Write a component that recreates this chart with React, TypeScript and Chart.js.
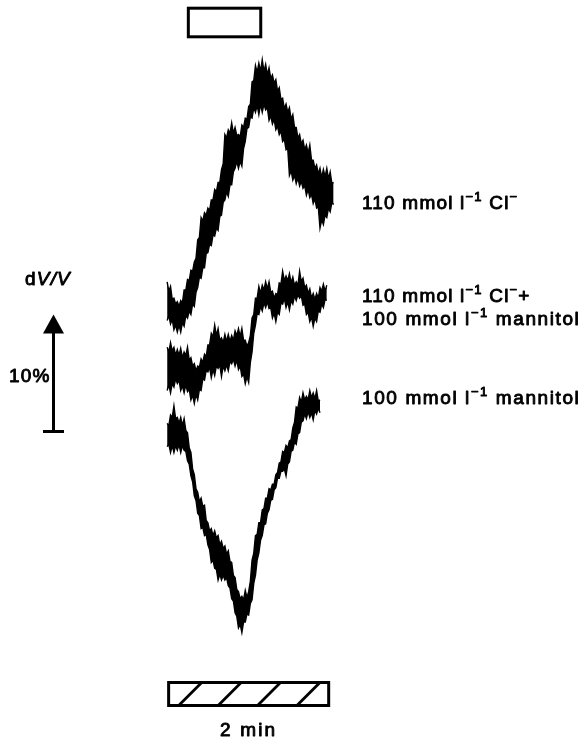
import { useEffect, useRef } from 'react';
import { Chart, registerables } from 'chart.js';

Chart.register(...registerables);

// Sampling times (s) of the volume recordings
const timeSec = [
  0, 1.25, 2.5, 3.75, 5, 6.25, 7.5, 8.75, 10, 11.25, 12.5, 13.75, 15, 16.25, 17.5, 18.75, 20, 21.25,
  22.5, 23.75, 25, 26.25, 27.5, 28.75, 30, 31.25, 32.5, 33.75, 35, 36.25, 37.5, 38.75, 40, 41.25,
  42.5, 43.75, 45, 46.25, 47.5, 48.75, 50, 51.25, 52.5, 53.75, 55, 56.25, 57.5, 58.75, 60, 61.25,
  62.5, 63.75, 65, 66.25, 67.5, 68.75, 70, 71.25, 72.5, 73.75, 75, 76.25, 77.5, 78.75, 80, 81.25,
  82.5, 83.75, 85, 86.25, 87.5, 88.75, 90, 91.25, 92.5, 93.75, 95, 96.25, 97.5, 98.75, 100, 101.25,
  102.5, 103.75, 105, 106.25, 107.5, 108.75, 110, 111.25, 112.5, 113.75, 115, 116.25, 117.5,
  118.75, 120, 121.25, 122.5,
];

// 110 mmol l-1 Cl- : upper / lower edge of the noisy trace (dV/V, %, offset for display)
const chlorideUpper = [
  12.8, 12.0, 12.4, 11.3, 11.4, 10.9, 11.1, 10.7, 11.2, 11.0,
  12.1, 12.1, 13.0, 12.9, 13.8, 13.7, 14.5, 14.8, 16.4, 16.6,
  18.3, 18.0, 18.7, 18.5, 19.1, 18.9, 19.8, 19.8, 20.7, 20.5,
  21.3, 21.3, 22.4, 22.9, 25.4, 25.1, 25.8, 25.5, 26.4, 25.5,
  26.0, 25.3, 25.4, 25.2, 26.2, 26.0, 26.8, 26.7, 27.8, 28.0,
  29.9, 30.0, 31.3, 30.7, 31.5, 30.8, 31.8, 30.8, 31.4, 30.5,
  31.1, 30.2, 30.5, 29.8, 30.1, 29.1, 29.4, 28.4, 28.5, 27.6,
  28.0, 27.3, 27.7, 26.7, 27.1, 26.0, 26.0, 25.1, 25.4, 24.6,
  24.9, 24.1, 24.5, 23.8, 24.5, 23.2, 23.2, 22.5, 22.8, 22.0,
  22.5, 21.7, 22.4, 21.8, 22.5, 21.6, 22.2, 21.2, 21.3,
];
const chlorideLower = [
  9.5, 9.9, 9.2, 9.6, 8.7, 9.1, 8.5, 9.1, 8.5, 9.3,
  9.0, 9.9, 9.7, 10.3, 10.0, 10.9, 10.7, 11.9, 12.3, 13.2,
  13.1, 14.0, 14.0, 15.2, 15.3, 16.0, 15.9, 16.8, 16.7, 17.4,
  17.2, 18.4, 18.5, 19.6, 19.8, 20.5, 20.1, 21.1, 21.1, 22.2,
  22.5, 23.1, 22.5, 23.1, 22.7, 24.2, 24.8, 25.9, 26.0, 26.9,
  26.8, 27.7, 27.3, 27.9, 27.1, 28.0, 27.3, 28.0, 27.5, 27.7,
  26.6, 27.0, 26.3, 26.7, 25.8, 26.1, 25.4, 25.7, 24.8, 25.0,
  24.1, 24.2, 21.9, 22.3, 21.5, 21.9, 21.2, 21.7, 21.0, 21.4,
  20.8, 21.0, 20.2, 20.7, 20.0, 20.3, 19.5, 19.9, 19.1, 19.2,
  17.4, 18.1, 17.7, 18.5, 18.3, 19.1, 18.8, 19.6, 19.4,
];

// 110 mmol l-1 Cl- + 100 mmol l-1 mannitol
const mixUpper = [
  7.2, 6.8, 7.6, 6.9, 7.2, 6.5, 7.0, 6.5, 7.1, 6.3,
  6.8, 6.5, 7.2, 6.1, 6.3, 5.6, 5.8, 5.2, 5.6, 5.5,
  6.2, 5.9, 6.6, 6.4, 7.4, 7.4, 8.4, 8.1, 9.1, 8.2,
  8.8, 7.8, 8.0, 7.6, 8.3, 7.7, 8.3, 7.7, 8.2, 7.8,
  8.6, 8.2, 8.8, 8.1, 8.8, 7.8, 7.8, 7.3, 7.6, 8.2,
  9.7, 10.0, 11.4, 11.4, 12.4, 11.8, 12.5, 12.1, 12.8, 12.2,
  12.8, 11.9, 12.0, 11.4, 11.8, 11.7, 12.7, 12.6, 13.7, 12.9,
  13.3, 12.9, 13.5, 12.7, 13.2, 12.5, 12.8, 12.5, 13.7, 12.8,
  13.1, 12.3, 12.5, 11.8, 12.2, 11.4, 11.8, 11.3, 11.8, 11.4,
  12.3, 12.0, 12.6, 12.0, 12.5,
];
const mixLower = [
  3.5, 4.0, 3.3, 4.1, 3.8, 4.5, 4.1, 4.4, 3.5, 3.9,
  3.3, 4.0, 3.4, 3.6, 2.7, 3.1, 2.4, 3.2, 2.7, 3.6,
  3.5, 4.5, 4.4, 5.2, 5.1, 5.5, 4.6, 5.3, 4.8, 5.6,
  5.4, 5.7, 4.7, 5.6, 5.2, 5.7, 5.2, 6.0, 5.8, 6.2,
  5.6, 6.1, 5.3, 5.6, 4.7, 4.9, 4.1, 4.7, 4.2, 5.9,
  6.8, 8.4, 9.1, 10.1, 10.0, 10.7, 10.3, 11.0, 10.6, 11.1,
  10.5, 10.6, 9.7, 10.1, 9.4, 10.2, 10.0, 11.0, 10.9, 11.4,
  10.6, 11.1, 10.4, 11.2, 10.9, 11.6, 11.2, 11.7, 11.4, 11.6,
  10.8, 10.9, 10.0, 10.2, 9.4, 9.8, 9.0, 9.7, 9.4, 10.3,
  10.2, 10.9, 10.6, 11.3, 11.2,
];

// 100 mmol l-1 mannitol
const mannitolUpper = [
  0.7, 0.5, 1.4, 1.2, 2.2, 1.1, 1.2, 0.7, 1.2, 0.5,
  1.1, 0.1, -0.1, -1.4, -1.8, -3.2, -3.7, -4.9, -5.2, -6.0,
  -5.7, -6.4, -6.3, -7.6, -7.8, -8.5, -8.3, -8.9, -8.5, -9.1,
  -8.9, -9.7, -9.4, -10.0, -9.8, -10.5, -10.2, -11.1, -11.2, -12.3,
  -12.5, -13.5, -13.7, -14.3, -14.1, -14.4, -13.6, -14.2, -13.7, -12.8,
  -11.0, -10.4, -8.9, -8.8, -7.8, -7.8, -6.7, -6.6, -5.7, -5.7,
  -4.9, -5.0, -4.5, -4.5, -3.7, -3.5, -2.7, -2.6, -1.7, -1.8,
  -1.2, -1.4, -0.8, -0.7, 0.3, 0.8, 2.1, 2.0, 2.9, 2.5,
  3.3, 2.7, 3.0, 2.7, 3.5, 2.9, 3.3, 2.8, 3.5, 2.6,
  2.7,
];
const mannitolLower = [
  -1.3, -1.1, -1.8, -1.2, -1.8, -1.2, -1.6, -1.1, -1.8, -1.2,
  -1.6, -1.7, -2.5, -2.8, -3.8, -4.3, -5.5, -5.9, -7.0, -7.2,
  -8.3, -8.2, -8.9, -8.8, -9.7, -10.1, -11.2, -11.0, -11.7, -11.8,
  -12.7, -12.2, -12.7, -12.3, -12.7, -12.5, -13.2, -13.4, -14.3, -14.5,
  -15.5, -15.8, -16.8, -16.5, -17.2, -16.3, -16.3, -15.6, -15.7, -14.7,
  -14.4, -13.0, -12.3, -11.0, -10.4, -9.3, -8.9, -8.0, -7.9, -7.0,
  -6.7, -5.9, -5.8, -5.0, -4.8, -4.0, -4.0, -3.4, -3.4, -3.2,
  -3.8, -2.8, -2.6, -1.7, -1.6, -0.9, -1.1, -0.2, -0.1, 0.8,
  0.9, 1.5, 1.1, 1.7, 1.2, 1.6, 1.0, 1.8, 1.5, 2.0,
  1.6,
];

// Solution period (open bar), time scale bar and volume scale bar
const stimulusStart = 14.5;
const stimulusEnd = 70;
const timeBarStart = 0;
const timeBarEnd = 120;
const hatchCentres = [17, 46, 75, 104];
const scaleBarPercent = 10;

const FONT = '"Liberation Sans", Arial, Helvetica, sans-serif';
const INK = '#000';

type Part = { text: string; sup?: boolean; italic?: boolean };

const labelChloride: Part[] = [
  { text: '110 mmol l' }, { text: '\u22121', sup: true }, { text: ' Cl' }, { text: '\u2212', sup: true },
];
const labelMixA: Part[] = [
  { text: '110 mmol l' }, { text: '\u22121', sup: true }, { text: ' Cl' }, { text: '\u2212', sup: true }, { text: '+' },
];
const labelMannitol: Part[] = [
  { text: '100 mmol l' }, { text: '\u22121', sup: true }, { text: ' mannitol' },
];

function toPoints(values: number[]) {
  return values.map((v, i) => ({ x: timeSec[i], y: v }));
}

function drawRich(ctx: CanvasRenderingContext2D, parts: Part[], x: number, y: number, size: number) {
  let cx = x;
  for (const p of parts) {
    const fs = p.sup ? Math.round(size * 0.68) : size;
    ctx.font = `${p.italic ? 'italic ' : ''}${fs}px ${FONT}`;
    const yy = p.sup ? y - size * 0.42 : y;
    ctx.fillText(p.text, cx, yy);
    ctx.strokeText(p.text, cx, yy);
    cx += ctx.measureText(p.text).width;
  }
  return cx - x;
}

const decorations = {
  id: 'decorations',
  afterDraw(chart: any) {
    const { ctx, scales } = chart;
    const xs = scales.x;
    const ys = scales.y;
    ctx.save();
    ctx.strokeStyle = INK;
    ctx.fillStyle = INK;
    ctx.lineCap = 'butt';

    // open bar: solution change
    const s0 = xs.getPixelForValue(stimulusStart);
    const s1 = xs.getPixelForValue(stimulusEnd);
    ctx.lineWidth = 3;
    ctx.strokeRect(s0 + 1.5, 8.2, s1 - s0 - 3, 28.6);

    // hatched time bar
    const t0 = xs.getPixelForValue(timeBarStart);
    const t1 = xs.getPixelForValue(timeBarEnd);
    const barTop = 681;
    const barH = 26;
    ctx.strokeRect(t0 + 1.5, barTop + 1.5, t1 - t0 - 3, barH - 3);
    ctx.save();
    ctx.beginPath();
    ctx.rect(t0 + 1.5, barTop + 1.5, t1 - t0 - 3, barH - 3);
    ctx.clip();
    ctx.lineWidth = 2.8;
    for (const c of hatchCentres) {
      const mx = xs.getPixelForValue(c);
      ctx.beginPath();
      ctx.moveTo(mx - 13, barTop + barH);
      ctx.lineTo(mx + 13, barTop);
      ctx.stroke();
    }
    ctx.restore();

    // volume scale bar
    const y0 = ys.getPixelForValue(0);
    const y10 = ys.getPixelForValue(scaleBarPercent);
    const ax = 53.5;
    ctx.lineWidth = 3;
    ctx.beginPath();
    ctx.moveTo(ax, y0);
    ctx.lineTo(ax, y10 + 14);
    ctx.stroke();
    ctx.beginPath();
    ctx.moveTo(ax, y10);
    ctx.lineTo(ax - 10.5, y10 + 19);
    ctx.lineTo(ax + 10.5, y10 + 19);
    ctx.closePath();
    ctx.fill();
    ctx.beginPath();
    ctx.moveTo(ax - 10.5, y0);
    ctx.lineTo(ax + 10.5, y0);
    ctx.stroke();

    // text
    const size = 19;
    ctx.lineWidth = 0.9;
    ctx.lineJoin = 'round';
    ctx.textBaseline = 'alphabetic';
    ctx.textAlign = 'left';
    (ctx as any).letterSpacing = '1.2px';
    drawRich(ctx, [{ text: 'd' }, { text: 'V/V', italic: true }], 25, 285, size);
    drawRich(ctx, [{ text: '10%' }], 9, 382, size);
    drawRich(ctx, labelChloride, 362, 209, size);
    drawRich(ctx, labelMixA, 362, 302, size);
    (ctx as any).letterSpacing = '1.6px';
    drawRich(ctx, labelMannitol, 362, 325, size);
    drawRich(ctx, labelMannitol, 362, 404, size);

    (ctx as any).letterSpacing = '2.2px';
    ctx.font = `${size}px ${FONT}`;
    const cap = '2 min';
    const w = ctx.measureText(cap).width;
    const cx = xs.getPixelForValue((timeBarStart + timeBarEnd) / 2);
    drawRich(ctx, [{ text: cap }], cx - w / 2, 736, size);
    (ctx as any).letterSpacing = '0px';
    ctx.restore();
  },
};

function band(upper: number[], lower: number[]) {
  const common = {
    borderColor: INK,
    backgroundColor: INK,
    borderWidth: 1.4,
    pointRadius: 0,
    tension: 0,
    borderJoinStyle: 'miter' as const,
  };
  return [
    { ...common, data: toPoints(upper), fill: false },
    { ...common, data: toPoints(lower), fill: '-1' },
  ];
}

export default function App() {
  const ref = useRef<HTMLCanvasElement | null>(null);

  useEffect(() => {
    const canvas = ref.current;
    if (!canvas) return;
    const chart = new Chart(canvas, {
      type: 'line',
      data: {
        datasets: [
          ...band(chlorideUpper, chlorideLower),
          ...band(mixUpper, mixLower),
          ...band(mannitolUpper, mannitolLower),
        ] as any,
      },
      options: {
        animation: false,
        responsive: false,
        devicePixelRatio: 1,
        layout: { padding: 0 },
        plugins: { legend: { display: false }, tooltip: { enabled: false } },
        scales: {
          x: { type: 'linear', min: -123, max: 309, display: false },
          y: { type: 'linear', min: -26.3, max: 36.9, display: false },
        },
      },
      plugins: [decorations],
    });
    return () => chart.destroy();
  }, []);

  return (
    <div style={{ position: 'absolute', left: 0, top: 0, width: 587, height: 739, background: '#fff' }}>
      <canvas ref={ref} width={587} height={739} style={{ display: 'block' }} />
    </div>
  );
}
